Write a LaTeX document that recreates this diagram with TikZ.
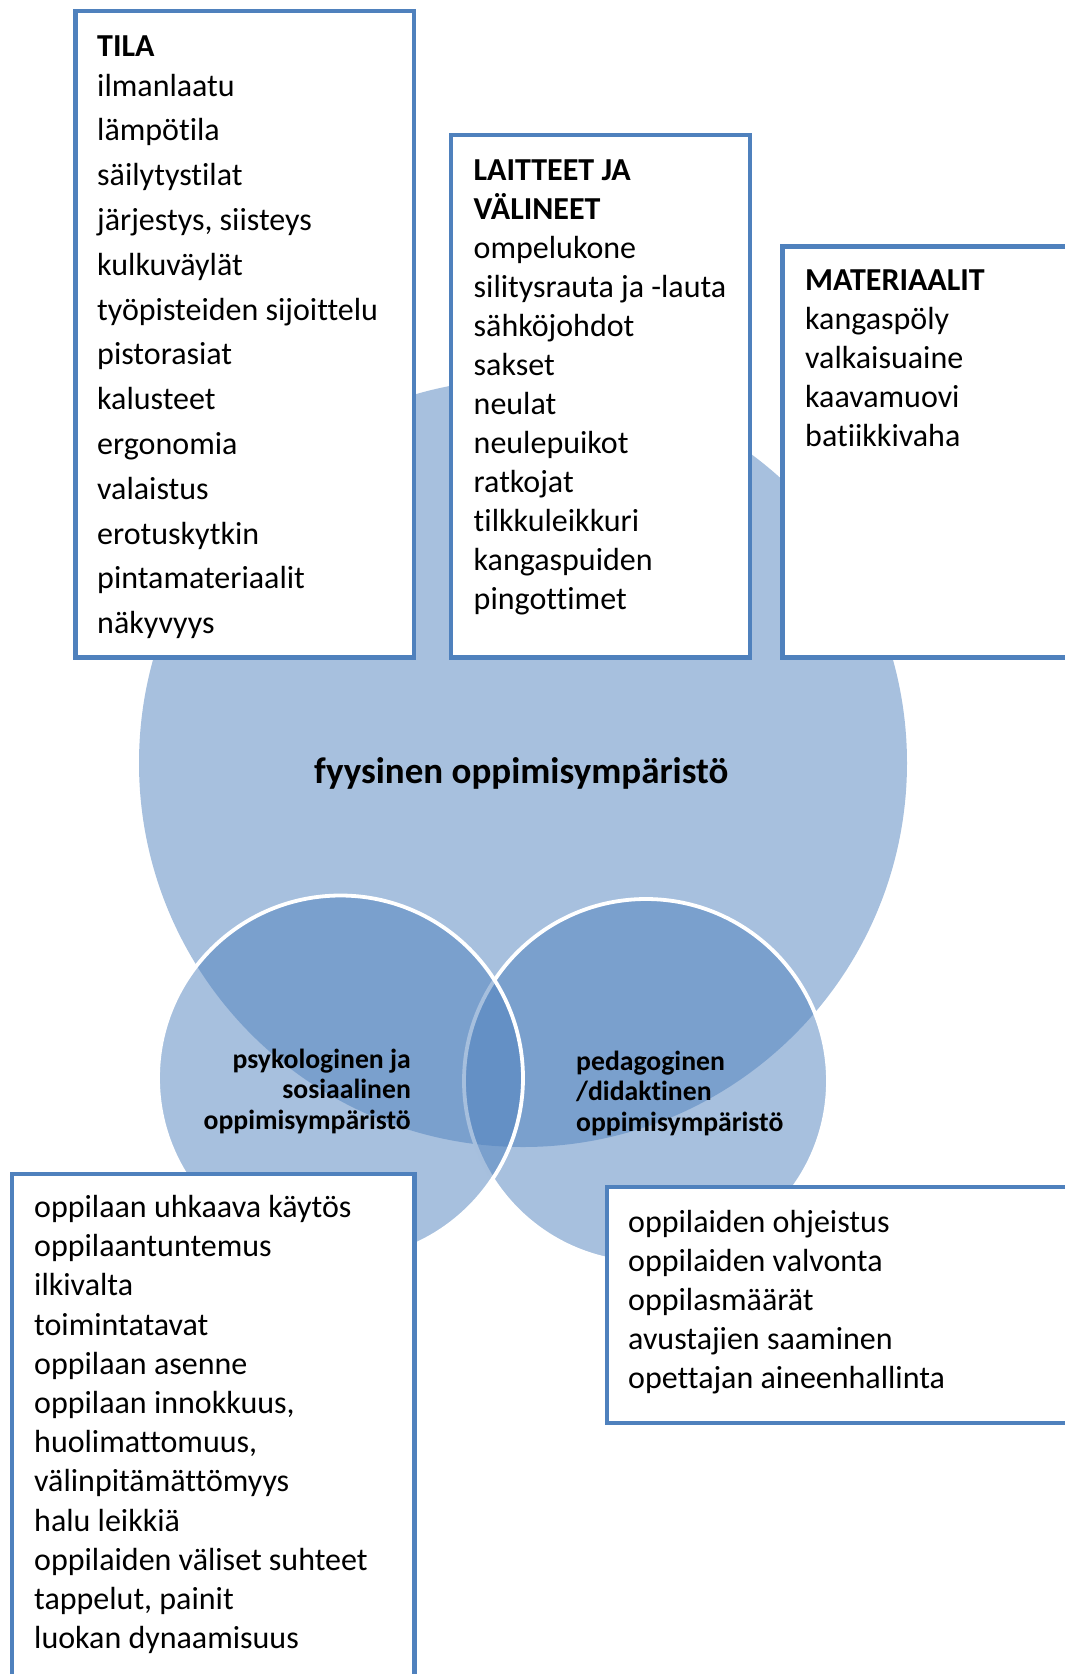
\documentclass[tikz,border=0pt]{standalone}
\usepackage{fontspec}
\setmainfont{Carlito}[Ligatures={NoCommon}]
\definecolor{obl}{HTML}{4F81BD}
\begin{document}
\begin{tikzpicture}[x=1pt,y=-1pt,
  boxline/.style={draw=obl, line width=4.5pt, fill=white},
  itemtxt/.style={anchor=base west, inner sep=0pt, font=\fontsize{32}{39}\selectfont},
  headtxt/.style={anchor=base west, inner sep=0pt, font=\fontsize{32}{39}\selectfont\bfseries},
  vennfill/.style={fill=obl, fill opacity=0.5},
  vennline/.style={draw=white, line width=3.8pt},
  circlabel/.style={inner sep=0pt, font=\fontsize{27.7}{30.6}\selectfont\bfseries},
  biglabel/.style={anchor=base west, inner sep=0pt, font=\fontsize{37}{44}\selectfont\bfseries}]
\useasboundingbox (0,0) rectangle (1065,1674);
\clip (0,0) rectangle (1065,1674);
% circles
\path[vennfill] (523,763) circle[radius=384];
\path[vennfill] (646,1081) circle[radius=182];
\path[vennline] (646,1081) circle[radius=182];
\path[vennfill] (340.5,1078) circle[radius=182.5];
\path[vennline] (340.5,1078) circle[radius=182.5];
% circle labels
\node[biglabel] (fyys) at (314,783) {fyysinen oppimisympäristö};
\node[circlabel, anchor=base east] (psy1) at (411,1068) {psykologinen ja};
\node[circlabel, anchor=base east] (psy2) at (411,1098.6) {sosiaalinen};
\node[circlabel, anchor=base east] (psy3) at (411,1129.2) {oppimisympäristö};
\node[circlabel, anchor=base west] (ped1) at (576,1070) {pedagoginen};
\node[circlabel, anchor=base west] (ped2) at (576,1100.6) {/didaktinen};
\node[circlabel, anchor=base west] (ped3) at (576,1131.2) {oppimisympäristö};
% boxes
\draw[boxline] (75.4,11.2) rectangle (414,657.6);
\draw[boxline] (451,135) rectangle (750,657.6);
\draw[boxline] (782.6,246.4) rectangle (1090,657.6);
\draw[boxline] (11.9,1174) rectangle (414.4,1700);
\draw[boxline] (607,1187) rectangle (1090,1423);
% TILA
\node[headtxt] (tilah) at (97,56.5) {TILA};
\foreach \t [count=\i] in {ilmanlaatu, lämpötila, säilytystilat, {järjestys, siisteys}, kulkuväylät, työpisteiden sijoittelu, pistorasiat, kalusteet, ergonomia, valaistus, erotuskytkin, pintamateriaalit, näkyvyys}
  \node[itemtxt] (tila\i) at (97,{96+44.8*(\i-1)}) {\t};
% LAITTEET
\node[headtxt] (laih1) at (473.5,180.5) {LAITTEET JA};
\node[headtxt] (laih2) at (473.5,219.5) {VÄLINEET};
\foreach \t [count=\i] in {ompelukone, silitysrauta ja -lauta, sähköjohdot, sakset, neulat, neulepuikot, ratkojat, tilkkuleikkuri, kangaspuiden, pingottimet}
  \node[itemtxt] (lai\i) at (473.5,{258.5+39*(\i-1)}) {\t};
% MATERIAALIT
\node[headtxt] (math) at (805,290) {MATERIAALIT};
\foreach \t [count=\i] in {kangaspöly, valkaisuaine, kaavamuovi, batiikkivaha}
  \node[itemtxt] (mat\i) at (805,{329+39*(\i-1)}) {\t};
% bottom left
\foreach \t [count=\i] in {oppilaan uhkaava käytös, oppilaantuntemus, ilkivalta, toimintatavat, oppilaan asenne, {oppilaan innokkuus,}, {huolimattomuus,}, välinpitämättömyys, halu leikkiä, oppilaiden väliset suhteet, {tappelut, painit}, luokan dynaamisuus}
  \node[itemtxt] (psyk\i) at (34,{1217.5+39.2*(\i-1)}) {\t};
% bottom right
\foreach \t [count=\i] in {oppilaiden ohjeistus, oppilaiden valvonta, oppilasmäärät, avustajien saaminen, opettajan aineenhallinta}
  \node[itemtxt] (ped\i) at (628,{1232+39*(\i-1)}) {\t};
\end{tikzpicture}
\end{document}
